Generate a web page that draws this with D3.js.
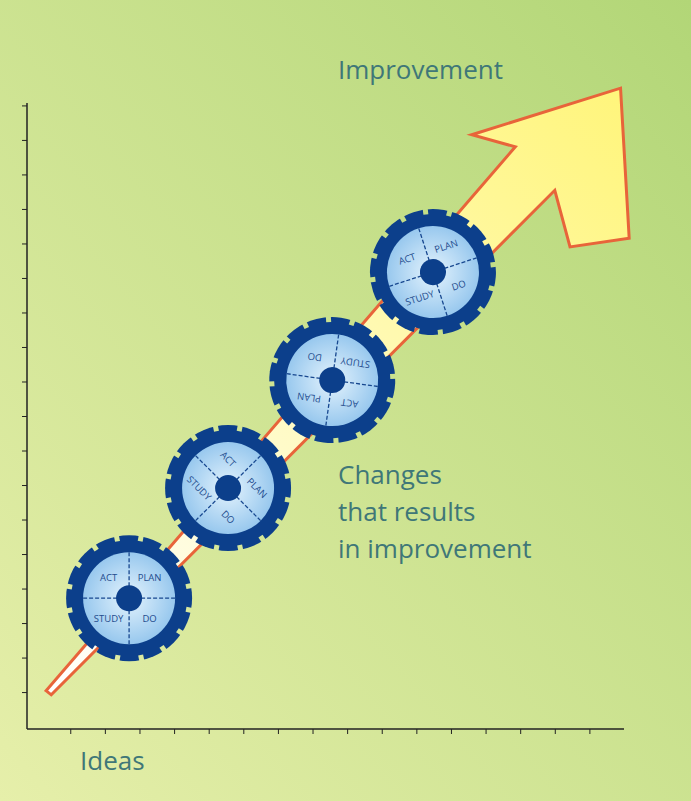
<!DOCTYPE html>
<html><head><meta charset="utf-8">
<script src="https://cdn.jsdelivr.net/npm/d3@7"></script>
<style>body{margin:0;overflow:hidden}text{font-family:"Open Sans",sans-serif}</style>
</head><body><div id="chart"></div>
<script>
const W = 691, H = 801;
const xTicks = d3.range(0, 16);
const yTicks = d3.range(0, 18);
// gears: centre in axis units, rotation of the labels
const gearX = [1.7, 4.56, 7.57, 10.48];
const gearY = [2.72, 5.91, 9.04, 12.17];
const gearRot = [0, 45, 188, -18];
const quadLabels = ["PLAN", "DO", "STUDY", "ACT"];
// arrow outline in axis units
const arrowPts = [[-0.7, 0.04], [-0.55, -0.08], [14.0, 14.54], [14.44, 12.9], [16.15, 13.15], [15.9, 17.5], [11.6, 16.15], [12.86, 15.8]];

const x = d3.scaleLinear([-1.25, 16], [27, 624]);
const y = d3.scaleLinear([-1.07, 17.07], [729, 103]);

const svg = d3.select("#chart").append("svg").attr("width", W).attr("height", H);
const defs = svg.append("defs");
const bg = defs.append("linearGradient").attr("id", "bg").attr("x1", 0).attr("y1", 1).attr("x2", 1).attr("y2", 0);
bg.append("stop").attr("offset", 0).attr("stop-color", "#e6efaa");
bg.append("stop").attr("offset", 1).attr("stop-color", "#b2d677");
const ag = defs.append("linearGradient").attr("id", "ag").attr("x1", 0).attr("y1", 1).attr("x2", 1).attr("y2", 0);
ag.append("stop").attr("offset", 0).attr("stop-color", "#ffffff");
ag.append("stop").attr("offset", 1).attr("stop-color", "#fff57a");
const dg = defs.append("radialGradient").attr("id", "dg");
dg.append("stop").attr("offset", 0).attr("stop-color", "#e4f3fd");
dg.append("stop").attr("offset", 1).attr("stop-color", "#98c8ee");
const m = defs.append("mask").attr("id", "notch");
m.append("rect").attr("x", -70).attr("y", -70).attr("width", 140).attr("height", 140).attr("fill", "white");
m.selectAll("rect.n").data(d3.range(16)).join("rect").attr("class", "n")
  .attr("x", -2.5).attr("y", -64).attr("width", 5).attr("height", 6).attr("fill", "black")
  .attr("transform", d => `rotate(${d * 22.5 + 11})`);

svg.append("rect").attr("width", W).attr("height", H).attr("fill", "url(#bg)");

svg.append("g").attr("transform", `translate(0,${y(-1.07)})`)
  .call(d3.axisBottom(x).tickValues(xTicks).tickSize(5).tickFormat(""))
  .call(g => g.select(".domain").attr("d", `M27,0H624`).attr("stroke", "#222").attr("stroke-width", 1.5))
  .call(g => g.selectAll("line").attr("stroke", "#222"));
svg.append("g").attr("transform", `translate(${x(-1.25)},0)`)
  .call(d3.axisLeft(y).tickValues(yTicks).tickSize(5).tickFormat(""))
  .call(g => g.select(".domain").attr("d", `M0,103V729`).attr("stroke", "#222").attr("stroke-width", 1.5))
  .call(g => g.selectAll("line").attr("stroke", "#222"));

svg.append("polygon")
  .attr("points", arrowPts.map(p => [x(p[0]), y(p[1])].join(",")).join(" "))
  .attr("fill", "url(#ag)").attr("stroke", "#e8643a").attr("stroke-width", 3).attr("stroke-linejoin", "miter");

const gears = svg.selectAll("g.gear").data(gearX.map((gx, i) => ({ gx, gy: gearY[i], rot: gearRot[i] })))
  .join("g").attr("class", "gear").attr("transform", d => `translate(${x(d.gx)},${y(d.gy)}) rotate(${d.rot})`);
gears.append("circle").attr("r", 63).attr("fill", "#0c3f8b").attr("mask", "url(#notch)");
gears.append("circle").attr("r", 46).attr("fill", "url(#dg)");
gears.selectAll("line.div").data([0, 90, 180, 270]).join("line").attr("class", "div")
  .attr("x1", 0).attr("y1", 0).attr("x2", 46).attr("y2", 0)
  .attr("transform", a => `rotate(${a})`)
  .attr("stroke", "#17478f").attr("stroke-width", 1.3).attr("stroke-dasharray", "4,2");
gears.circle = gears.append("circle").attr("r", 13).attr("fill", "#0c3f8b");
gears.selectAll("text.q").data(quadLabels.map((t, i) => ({ t, a: -45 + i * 90 }))).join("text").attr("class", "q")
  .attr("x", d => 29 * Math.cos(d.a * Math.PI / 180))
  .attr("y", d => 29 * Math.sin(d.a * Math.PI / 180))
  .attr("dy", "0.35em").attr("text-anchor", "middle")
  .attr("font-size", 9.5).attr("fill", "#1f4c8e").text(d => d.t);

const tc = "#3f7778";
svg.append("text").attr("x", 338).attr("y", 79).attr("font-size", 26).attr("fill", tc).text("Improvement");
svg.append("text").attr("x", 80).attr("y", 770).attr("font-size", 26).attr("fill", tc).text("Ideas");
svg.append("text").attr("font-size", 26).attr("fill", tc)
  .selectAll("tspan").data(["Changes", "that results", "in improvement"]).join("tspan")
  .attr("x", 338).attr("y", (d, i) => 484 + i * 37).text(d => d);
</script></body></html>
